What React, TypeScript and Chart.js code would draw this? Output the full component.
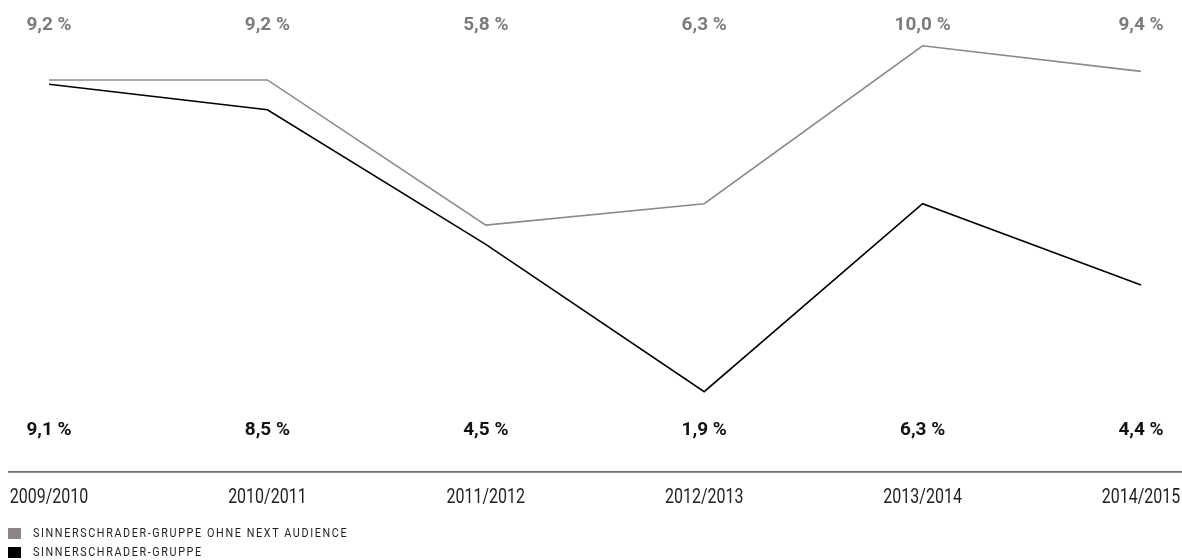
import React, { useEffect, useRef } from "react";
import { Chart, registerables } from "chart.js";

Chart.register(...registerables);

const categories = ["2009/2010", "2010/2011", "2011/2012", "2012/2013", "2013/2014", "2014/2015"];

const ohneName = "SINNERSCHRADER-GRUPPE OHNE NEXT AUDIENCE";
const ohneValues = [9.2, 9.2, 5.8, 6.3, 10.0, 9.4];
const ohneLabels = ["9,2 %", "9,2 %", "5,8 %", "6,3 %", "10,0 %", "9,4 %"];

const gruppeName = "SINNERSCHRADER-GRUPPE";
const gruppeValues = [9.1, 8.5, 5.35, 1.9, 6.3, 4.4];
const gruppeLabels = ["9,1 %", "8,5 %", "4,5 %", "1,9 %", "6,3 %", "4,4 %"];

const GRAY_LINE = "#8a8a8a";
const GRAY_TEXT = "#7f7b79";
const GRAY_BOX = "#8b8683";
const BLACK = "#000000";
const LABEL_FONT = "bold 19px Roboto, 'Liberation Sans', sans-serif";
const TICK_FONT = "400 20px Roboto, 'Liberation Sans', sans-serif";
const TICK_SCALE_X = 0.8;

const valueLabelsPlugin = {
  id: "valueLabels",
  afterDatasetsDraw(chart: any) {
    const { ctx, scales } = chart;
    const x = scales.x;
    ctx.save();
    ctx.font = LABEL_FONT;
    ctx.textAlign = "center";
    ctx.textBaseline = "alphabetic";
    ohneLabels.forEach((t, i) => {
      ctx.fillStyle = GRAY_TEXT;
      ctx.fillText(t, x.getPixelForValue(i), 22);
    });
    gruppeLabels.forEach((t, i) => {
      ctx.fillStyle = "#111111";
      ctx.fillText(t, x.getPixelForValue(i), 427);
    });
    ctx.restore();
  },
};

const axisPlugin = {
  id: "axisLineAndLabels",
  afterDraw(chart: any) {
    const { ctx, chartArea, width, scales } = chart;
    const x = scales.x;
    ctx.save();
    ctx.strokeStyle = "#6e6e6e";
    ctx.lineWidth = 1.7;
    ctx.beginPath();
    ctx.moveTo(0, chartArea.bottom - 1);
    ctx.lineTo(width, chartArea.bottom - 1);
    ctx.stroke();

    ctx.font = TICK_FONT;
    ctx.fillStyle = "#1f1f1f";
    ctx.textAlign = "center";
    ctx.textBaseline = "alphabetic";
    x.ticks.forEach((tick: any, i: number) => {
      const label = x.getLabelForValue(tick.value);
      const px = x.getPixelForTick(i);
      ctx.save();
      ctx.translate(px, chartArea.bottom + 30.5);
      ctx.scale(TICK_SCALE_X, 1);
      ctx.fillText(label, 0, 0);
      ctx.restore();
    });
    ctx.restore();
  },
};

export default function App() {
  const ref = useRef<HTMLCanvasElement>(null);

  useEffect(() => {
    document.body.style.margin = "8px 0 0 8px";
    document.body.style.overflow = "hidden";
    const chart = new Chart(ref.current as HTMLCanvasElement, {
      type: "line",
      data: {
        labels: categories,
        datasets: [
          {
            label: ohneName,
            data: ohneValues,
            borderColor: GRAY_LINE,
            backgroundColor: GRAY_BOX,
            borderWidth: 1.6,
            pointRadius: 0,
            tension: 0,
          },
          {
            label: gruppeName,
            data: gruppeValues,
            borderColor: BLACK,
            backgroundColor: BLACK,
            borderWidth: 1.6,
            pointRadius: 0,
            tension: 0,
          },
        ],
      },
      options: {
        animation: false,
        responsive: true,
        maintainAspectRatio: false,
        layout: { autoPadding: false, padding: { left: 41, right: 41, top: 3.6, bottom: 87.2 } },
        plugins: {
          legend: { display: false },
          tooltip: { enabled: false },
        },
        scales: {
          x: {
            offset: false,
            grid: { display: false, drawTicks: false },
            border: { display: false },
            ticks: { display: false, autoSkip: false },
          },
          y: {
            display: false,
            min: 0,
            max: 10.8,
          },
        },
      },
      plugins: [valueLabelsPlugin, axisPlugin],
    });
    return () => chart.destroy();
  }, []);

  const legendItems = [
    { name: ohneName, color: GRAY_BOX, top: 516 },
    { name: gruppeName, color: BLACK, top: 534.7 },
  ];

  return (
    <div style={{ position: "relative", width: 1174, height: 552 }}>
      <canvas ref={ref} />
      {legendItems.map((it) => (
        <div
          key={it.name}
          style={{
            position: "absolute",
            left: 0,
            top: it.top,
            height: 18,
            lineHeight: "18px",
            display: "flex",
            alignItems: "center",
          }}
        >
          <span
            style={{
              display: "inline-block",
              width: 13,
              height: 11,
              background: it.color,
              marginRight: 12,
              marginTop: 1,
            }}
          />
          <span
            style={{
              fontFamily: "Roboto, 'Liberation Sans', sans-serif",
              fontSize: 12.7,
              lineHeight: "18px",
              letterSpacing: 1.9,
              color: "#1e1e1e",
              whiteSpace: "nowrap",
              display: "inline-block",
              transform: "scaleX(0.85)",
              transformOrigin: "left center",
            }}
          >
            {it.name}
          </span>
        </div>
      ))}
    </div>
  );
}
